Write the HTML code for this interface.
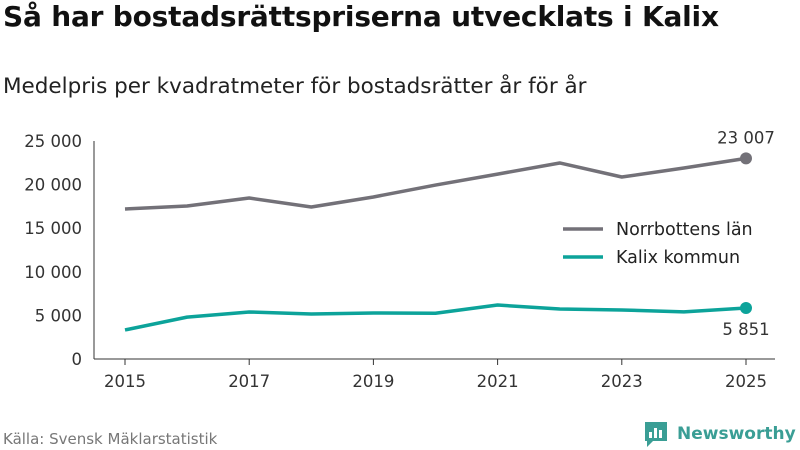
<!DOCTYPE html>
<html><head><meta charset="utf-8">
<style>
body{margin:0;background:#fff;font-family:"DejaVu Sans","Liberation Sans",sans-serif;}
#wrap{position:relative;width:800px;height:450px;overflow:hidden;}
h1{position:absolute;left:3px;top:0;margin:0;font-size:28px;font-weight:bold;color:#111;letter-spacing:-0.2px;}
h2{position:absolute;left:3px;top:74px;margin:0;font-size:21.5px;font-weight:normal;color:#222;}
#src{position:absolute;left:3px;top:430px;font-size:15px;color:#777;}
svg text{font-family:"DejaVu Sans","Liberation Sans",sans-serif;}
</style></head><body>
<div id="wrap">
<h1>Så har bostadsrättspriserna utvecklats i Kalix</h1>
<h2>Medelpris per kvadratmeter för bostadsrätter år för år</h2>
<svg id="chart" width="800" height="450" style="position:absolute;left:0;top:0"></svg>
<div id="src">Källa: Svensk Mäklarstatistik</div>
<div style="position:absolute;left:644px;top:420px;display:flex;align-items:center">
<svg width="24" height="28"><path d="M1 2h22v19H9l-6 6v-6H1z" fill="#3a9e95"/><rect x="5" y="12" width="3" height="6" fill="#fff"/><rect x="10" y="8" width="3" height="10" fill="#fff"/><rect x="15" y="10" width="3" height="8" fill="#fff"/></svg>
<span style="font-size:17px;font-weight:bold;color:#3a9e95;margin-left:9px">Newsworthy</span></div>
</div>
<script>
const years=[2015,2016,2017,2018,2019,2020,2021,2022,2023,2024,2025];
const norrbotten=[17200,17550,18460,17430,18580,19950,21200,22480,20870,21900,23007];
const kalix=[3330,4800,5390,5160,5280,5250,6190,5730,5620,5400,5851];
const yTicks=[0,5000,10000,15000,20000,25000];
const xTicks=[2015,2017,2019,2021,2023,2025];
const NS='http://www.w3.org/2000/svg';
const svg=document.getElementById('chart');
const x=v=>125+(v-2015)*62.1;
const y=v=>359-v*0.00872;
const fmt=v=>v.toLocaleString('en-US').replace(/,/g,' ');
function mk(t,a){const e=document.createElementNS(NS,t);for(const k in a)e.setAttribute(k,a[k]);svg.appendChild(e);return e;}
yTicks.forEach(t=>{const e=mk('text',{x:82,y:y(t)+6,'text-anchor':'end','font-size':16.5,fill:'#333'});e.textContent=fmt(t);

});
const ax=mk('line',{x1:94,x2:94,y1:141,y2:359,stroke:'#333','stroke-width':1});


const bx=mk('line',{x1:94,x2:775,y1:359,y2:359,stroke:'#333','stroke-width':1});


xTicks.forEach(t=>{const l=mk('line',{x1:x(t),x2:x(t),y1:359,y2:365,stroke:'#333'});


const e=mk('text',{x:x(t),y:387,'text-anchor':'middle','font-size':16.5,fill:'#333'});e.textContent=t;

});
function series(vals,color,name){
const p=mk('polyline',{points:vals.map((v,i)=>x(years[i])+','+y(v)).join(' '),fill:'none',stroke:color,'stroke-width':3.5,'stroke-linejoin':'round'});


const n=vals.length-1;
const c=mk('circle',{cx:x(years[n]),cy:y(vals[n]),r:6,fill:color});

}
series(norrbotten,'#737178','norrbotten');
series(kalix,'#0ca39a','kalix');
let n=norrbotten.length-1;
let t1=mk('text',{x:x(years[n]),y:y(norrbotten[n])-15,'text-anchor':'middle','font-size':16.5,fill:'#333'});t1.textContent=fmt(norrbotten[n]);


let t2=mk('text',{x:x(years[n]),y:y(kalix[n])+27,'text-anchor':'middle','font-size':16.5,fill:'#333'});t2.textContent=fmt(kalix[n]);


const bg=mk('rect',{x:555,y:212,width:215,height:60,fill:'#fff'});


[['Norrbottens län','#737178',229],['Kalix kommun','#0ca39a',257]].forEach(([lab,col,yy])=>{
const l=mk('line',{x1:563,x2:603,y1:yy,y2:yy,stroke:col,'stroke-width':3.5});


const e=mk('text',{x:616,y:yy+6,'font-size':17.5,fill:'#222'});e.textContent=lab;

});
</script>
</body></html>
